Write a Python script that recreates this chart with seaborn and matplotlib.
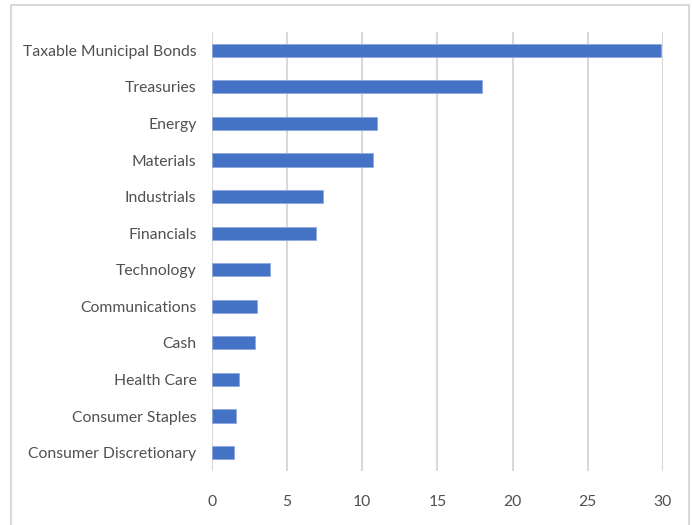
import matplotlib
matplotlib.use("Agg")
import matplotlib.pyplot as plt
import matplotlib.patches as mpatches
import pandas as pd
import seaborn as sns

sectors = ['Taxable Municipal Bonds', 'Treasuries', 'Energy', 'Materials',
           'Industrials', 'Financials', 'Technology', 'Communications',
           'Cash', 'Health Care', 'Consumer Staples', 'Consumer Discretionary']
weights = [29.9, 18.0, 11.0, 10.7, 7.4, 6.9, 3.9, 3.0, 2.9, 1.8, 1.6, 1.5]
x_ticks = [0, 5, 10, 15, 20, 25, 30]

df = pd.DataFrame({'Sector': sectors, 'Weight': weights})

sns.set_style('white')
plt.rcParams['font.family'] = ['Lato', 'DejaVu Sans']

fig = plt.figure(figsize=(6.92, 5.25), dpi=100)
ax = fig.add_axes([0.306, 0.103, 0.652, 0.836])

sns.barplot(data=df, x='Weight', y='Sector', color='#4472C4', width=0.36,
            saturation=1, edgecolor='#8FAADC', linewidth=0.6, ax=ax, zorder=3)

ax.set_xlim(0, 30)
ax.set_xticks(x_ticks)
ax.xaxis.grid(True, color='#d9d9d9', linewidth=1.5, zorder=0)
ax.set_axisbelow(True)
for s in ax.spines.values():
    s.set_visible(False)
ax.set_xlabel('')
ax.set_ylabel('')
ax.tick_params(axis='both', length=0, labelsize=11.3, colors='#505050')
ax.tick_params(axis='y', pad=11)
ax.tick_params(axis='x', pad=17)

# chart frame
fig.patches.append(mpatches.Rectangle((11 / 692, -0.01), 678 / 692, 1 - 5 / 525 + 0.01,
                                      transform=fig.transFigure, fill=False,
                                      edgecolor='#d9d9d9', linewidth=1.5))

fig.savefig('out.png', dpi=100)
